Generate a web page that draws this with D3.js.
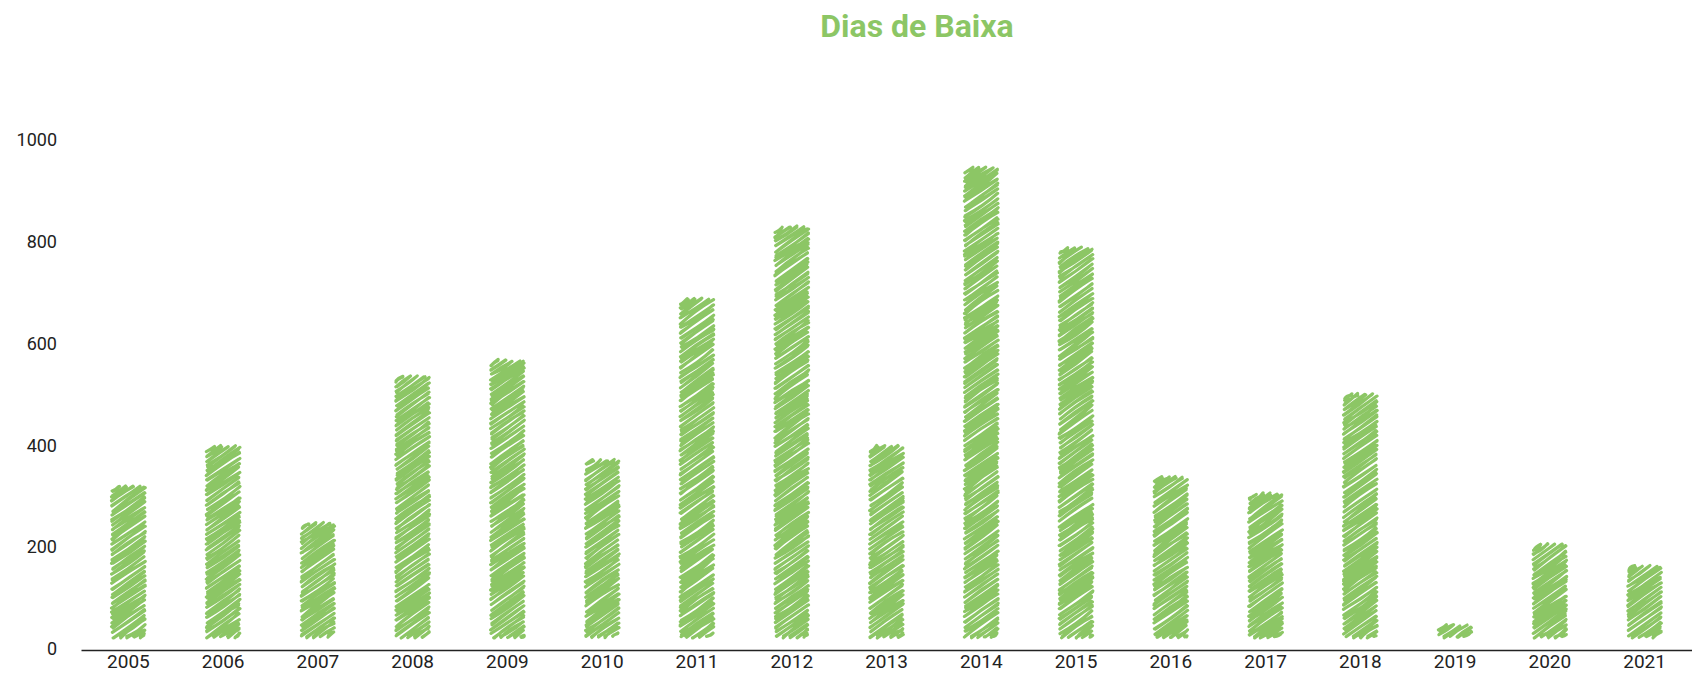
<!DOCTYPE html>
<html>
<head>
<meta charset="utf-8">
<script src="https://cdn.jsdelivr.net/npm/d3@7"></script>
<style>
  html, body { margin: 0; padding: 0; background: #ffffff; }
  svg { display: block; }
</style>
</head>
<body>
<svg id="chart" width="1692" height="673"></svg>
<script>
// ---- data ----
const years = ["2005","2006","2007","2008","2009","2010","2011","2012","2013","2014","2015","2016","2017","2018","2019","2020","2021"];
const diasBaixa = [323, 401, 250, 538, 570, 374, 691, 832, 401, 949, 791, 340, 308, 503, 49, 208, 165];
const yTicks = [0, 200, 400, 600, 800, 1000];
const chartTitle = "Dias de Baixa";

// ---- style ----
const GREEN = "#8cc665";
const svg = d3.select("#chart");

const x = d3.scaleBand().domain(years).range([81, 1692]).paddingInner(0.66).paddingOuter(0.33);
const y = d3.scaleLinear().domain([0, 1000]).range([649, 140]);
const baseInset = 12;

// deterministic jitter generator for the sketchy hachure
function mulberry32(a) {
  return function() {
    a |= 0; a = a + 0x6D2B79F5 | 0;
    let t = Math.imul(a ^ a >>> 15, 1 | a);
    t = t + Math.imul(t ^ t >>> 7, 61 | t) ^ t;
    return ((t ^ t >>> 14) >>> 0) / 4294967296;
  };
}
const rnd = mulberry32(2024);
const jit = (m) => (rnd() * 2 - 1) * m;

// title
svg.append("text")
  .attr("x", 917).attr("y", 37)
  .attr("text-anchor", "middle")
  .attr("font-family", "Roboto, 'Noto Sans', sans-serif")
  .attr("font-weight", 700)
  .attr("font-size", 32)
  .attr("fill", GREEN)
  .text(chartTitle);

// y axis (labels only)
const yAxis = svg.append("g")
  .attr("transform", "translate(57,0)")
  .call(d3.axisLeft(y).tickValues(yTicks).tickSize(0).tickPadding(0).tickFormat(d3.format("d")));
yAxis.select(".domain").remove();
yAxis.selectAll("text")
  .attr("font-family", "Roboto, sans-serif")
  .attr("font-size", 18)
  .attr("fill", "#222");

// bars with sketchy hachure fill
const barsG = svg.append("g");
const angle = 35 * Math.PI / 180;
const t = Math.tan(angle);
const gap = 4.0;
const gapV = gap / Math.cos(angle);

years.forEach((yr, i) => {
  const x0 = x(yr), w = x.bandwidth();
  const y0 = y(diasBaixa[i]) + 1.5;
  const y1 = y(0) - baseInset;
  const paths = [];
  for (let c = y0; c <= y1 + t * w + gapV; c += gapV) {
    const xs = Math.max(x0, x0 + (c - y1) / t);
    const xe = Math.min(x0 + w, x0 + (c - y0) / t);
    if (xe - xs < 0.5) continue;
    for (let pass = 0; pass < 2; pass++) {
      const xa = xs + jit(0.8), xb = xe + jit(0.8);
      const ya = c - t * (xs - x0) + jit(1.1);
      const yb = c - t * (xe - x0) + jit(1.1);
      const mx = (xa + xb) / 2 + jit(2.5), my = (ya + yb) / 2 + jit(1.6);
      paths.push(`M${xa.toFixed(2)},${ya.toFixed(2)}Q${mx.toFixed(2)},${my.toFixed(2)} ${xb.toFixed(2)},${yb.toFixed(2)}`);
    }
  }
  barsG.append("path")
    .attr("d", paths.join(""))
    .attr("fill", "none")
    .attr("stroke", GREEN)
    .attr("stroke-width", 3.1)
    .attr("stroke-linecap", "round");
});

// x axis
const xAxis = svg.append("g")
  .attr("transform", "translate(0,650)")
  .call(d3.axisBottom(x).tickSize(0).tickSizeOuter(0).tickPadding(5));
xAxis.select(".domain").attr("stroke", "#222").attr("stroke-width", 1.3);
xAxis.selectAll("text")
  .attr("font-family", "Roboto, sans-serif")
  .attr("font-size", 19)
  .attr("fill", "#222");
</script>
</body>
</html>
